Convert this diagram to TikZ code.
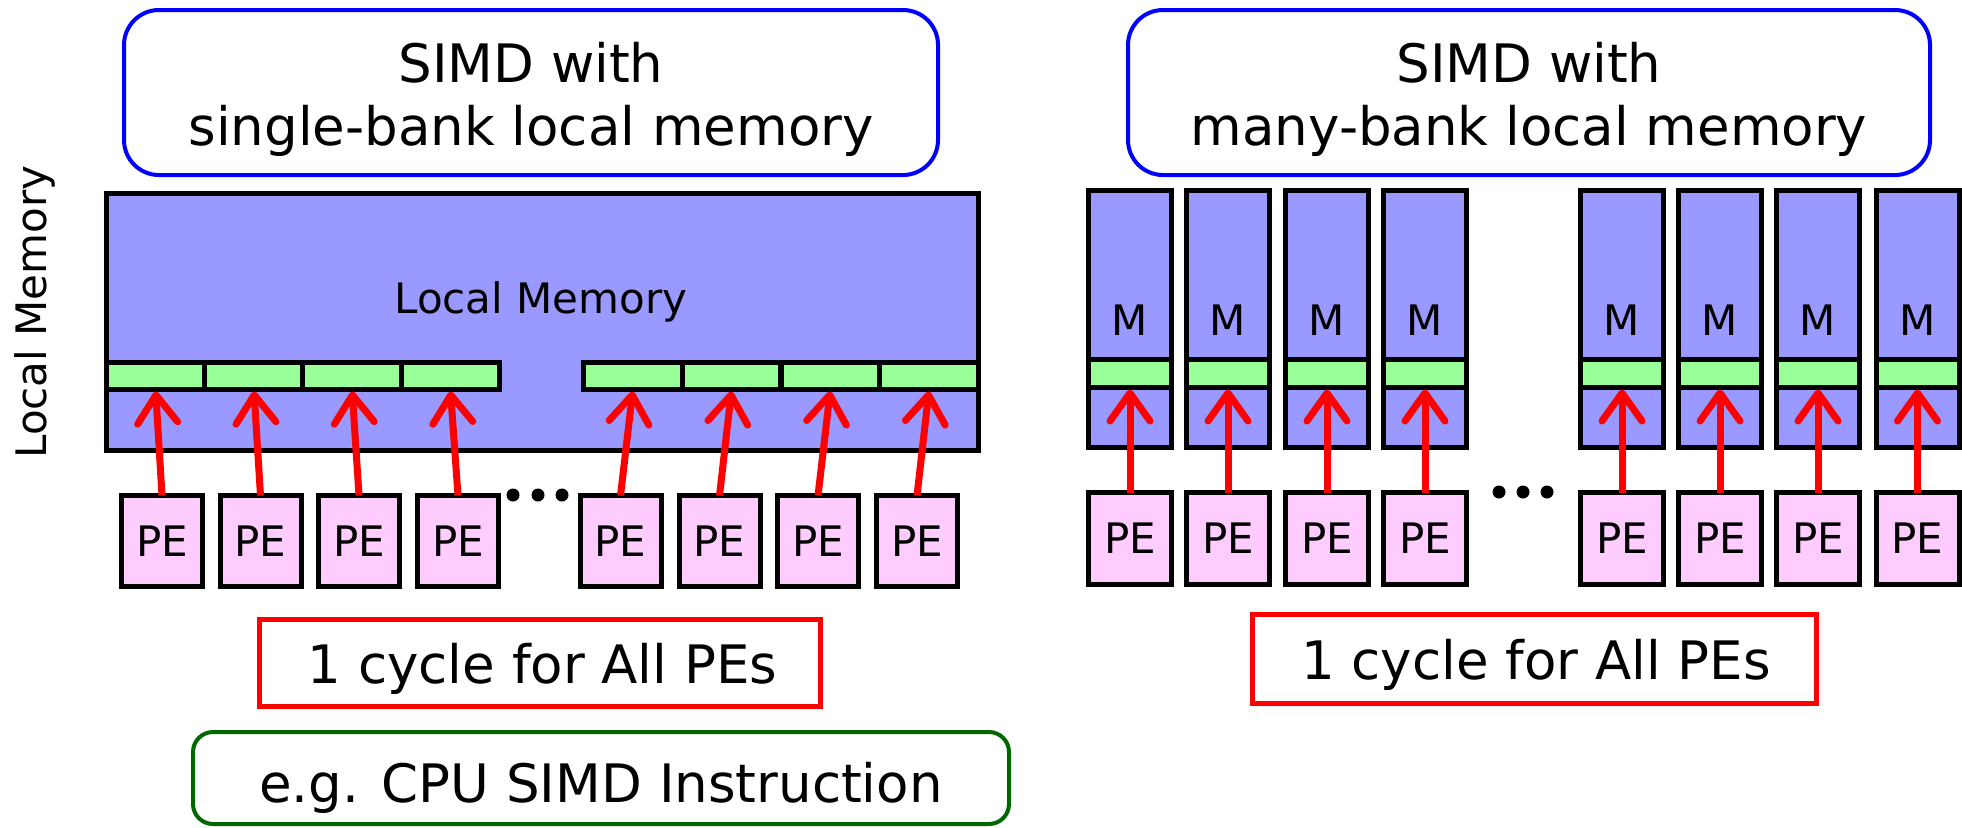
\documentclass[tikz,border=0pt]{standalone}
\usepackage{fontspec}
\setmainfont{DejaVu Sans}
\usetikzlibrary{arrows.meta,calc}
\definecolor{memfill}{RGB}{153,153,255}
\definecolor{portfill}{RGB}{153,255,153}
\definecolor{pefill}{RGB}{255,204,255}
\definecolor{titleblue}{RGB}{0,0,255}
\definecolor{notegreen}{RGB}{0,102,0}
\begin{document}
\begin{tikzpicture}[x=0.5pt,y=-0.5pt,
  bigfont/.style={font=\fontsize{26.5}{31.5}\selectfont},
  smallfont/.style={font=\fontsize{21}{25}\selectfont},
  titlebox/.style={draw=titleblue,line width=2pt,rounded corners=17.5pt,minimum height=82.5pt,inner sep=0pt,outer sep=0pt},
  cyclebox/.style={draw=red,line width=2.5pt,minimum height=43.5pt,inner sep=0pt,outer sep=0pt},
  notebox/.style={draw=notegreen,line width=2pt,rounded corners=10pt,minimum width=408pt,minimum height=46pt,inner sep=0pt,outer sep=0pt},
  membox/.style={draw=black,fill=memfill,line width=2.5pt,inner sep=0pt,outer sep=0pt},
  port/.style={draw=black,fill=portfill,line width=2.5pt,minimum width=49.2pt,minimum height=13.5pt,inner sep=0pt,outer sep=0pt},
  pebox/.style={draw=black,fill=pefill,line width=2.5pt,minimum width=40.5pt,minimum height=45.5pt,inner sep=0pt,outer sep=0pt,smallfont},
  dot/.style={circle,fill=black,minimum size=6.5pt,inner sep=0pt},
  pearrow/.style={draw=red,line width=3.5pt,shorten >=1pt,-{Straight Barb[length=14pt,width=20pt,line width=3.5pt,line cap=round,line join=round]}}
]
\useasboundingbox (0,0) rectangle (1962,827);

% ---------- left: single-bank local memory ----------
\node[titlebox,minimum width=407pt] (tl) at (531,92.5) {};
\node[bigfont,align=center] (tlt) at (531,99.75) {SIMD with\\single-bank local memory};

\node[membox,minimum width=436pt,minimum height=128.5pt] (mem) at (542.5,322) {};
\node[smallfont,anchor=base] (memt) at (541,313) {Local Memory};

\foreach \i/\x in {1/155.6,2/253.9,3/352.1,4/450.4,5/632.9,6/731.6,7/830.4,8/929.1}
  \node[port] (c\i) at (\x,376) {};

\foreach \i/\x in {1/162,2/260.5,3/359,4/458,5/620.5,6/719.5,7/818,8/917}
  \node[pebox] (p\i) at (\x,541) {PE};

\node[dot] (ld1) at (513,495) {};
\node[dot] (ld2) at (538,495) {};
\node[dot] (ld3) at (562,495) {};

\foreach \i in {1,...,8}
  \draw[pearrow] (p\i.north) -- (c\i.south);

\node[cyclebox,minimum width=280.5pt] (cl) at (540,663) {};
\node[bigfont,anchor=base] (clt) at (542.5,683) {1 cycle for All PEs};

\node[notebox] (note) at (601,778) {};
\node[bigfont,anchor=base] (notet) at (601,802) {e.g. CPU SIMD Instruction};

\node[smallfont,rotate=90,anchor=base] (axis) at (46,312) {Local Memory};

% ---------- right: many-bank local memory ----------
\node[titlebox,minimum width=401pt] (tr) at (1529,92.5) {};
\node[bigfont,align=center] (trt) at (1529,99.75) {SIMD with\\many-bank local memory};

\foreach \i/\x in {1/1130,2/1228,3/1327,4/1425,5/1622,6/1720,7/1818,8/1917.5}{
  \node[membox,minimum width=41.5pt,minimum height=128.5pt] (b\i) at (\x,319) {};
  \node[port,minimum width=41.5pt,minimum height=14pt] (g\i) at (\x,373.5) {};
  \node[smallfont,anchor=base] (m\i) at (\x,335) {M};
  \node[pebox,minimum width=41.5pt,minimum height=46pt] (q\i) at (\x,538.5) {PE};
}

\node[dot] (rd1) at (1499,492) {};
\node[dot] (rd2) at (1523,492) {};
\node[dot] (rd3) at (1547,492) {};

\foreach \i in {1,...,8}
  \draw[pearrow] (q\i.north) -- (g\i.south);

\node[cyclebox,minimum width=282pt,minimum height=44.5pt] (cr) at (1534.5,659) {};
\node[bigfont,anchor=base] (crt) at (1536,679) {1 cycle for All PEs};
\end{tikzpicture}
\end{document}
